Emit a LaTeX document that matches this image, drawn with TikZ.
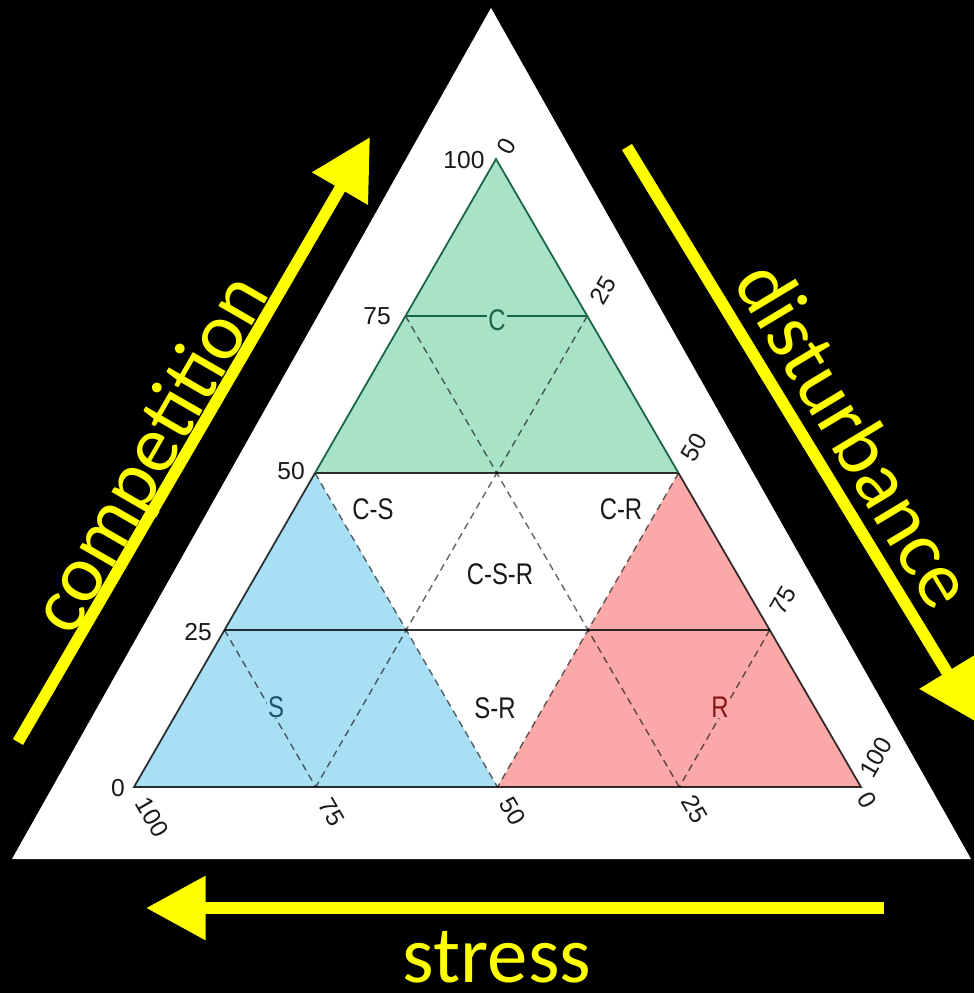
\documentclass[tikz,border=0pt]{standalone}
\usepackage{fontspec}
\newfontfamily\calfont{Carlito}
\newfontfamily\tickfont{Liberation Sans}
\newfontfamily\regfont[FakeStretch=0.8]{Liberation Sans}
\usetikzlibrary{arrows.meta,calc}
\definecolor{gfill}{RGB}{168,226,199}
\definecolor{bfill}{RGB}{168,223,245}
\definecolor{rfill}{RGB}{250,168,168}
\definecolor{gdark}{RGB}{25,100,70}
\definecolor{sdark}{RGB}{25,85,110}
\definecolor{rdark}{RGB}{130,20,25}
\definecolor{yel}{RGB}{255,255,0}
\definecolor{ink}{RGB}{25,25,25}
\tikzset{
  yarrow/.style={draw=yel, line width=6.6pt, -{Triangle[length=34pt,width=35pt]}},
  ytext/.style={text=yel, font=\calfont\fontsize{46}{50}\selectfont, inner sep=0pt},
  tick/.style={text=ink, font=\tickfont\fontsize{14}{16}\selectfont, inner sep=0pt},
  reg/.style={text=ink, font=\regfont\fontsize{17}{19}\selectfont, inner sep=1pt},
  grid/.style={draw=black, draw opacity=0.6, line width=0.8pt, dash pattern=on 4pt off 2.8pt},
  solid line/.style={draw=black, draw opacity=0.8, line width=1pt},
}
\begin{document}
\begin{tikzpicture}[x=0.02cm,y=-0.02cm]
\fill[black] (0,0) rectangle (974,993);
\useasboundingbox (0,0) rectangle (974,993);
% outer white triangle
\fill[white] (491,8) -- (12,859) -- (971,859) -- cycle;
% inner triangle
\coordinate (T) at (496,159);
\coordinate (L) at (134,787);
\coordinate (R) at (861,787);
\coordinate (l25) at ($(L)!0.25!(T)$);
\coordinate (l50) at ($(L)!0.5!(T)$);
\coordinate (l75) at ($(L)!0.75!(T)$);
\coordinate (r25) at ($(R)!0.25!(T)$);
\coordinate (r50) at ($(R)!0.5!(T)$);
\coordinate (r75) at ($(R)!0.75!(T)$);
\coordinate (b25) at ($(L)!0.25!(R)$);
\coordinate (b50) at ($(L)!0.5!(R)$);
\coordinate (b75) at ($(L)!0.75!(R)$);
% coloured regions
\fill[gfill] (T) -- (l50) -- (r50) -- cycle;
\fill[bfill] (L) -- (b50) -- (l50) -- cycle;
\fill[rfill] (b50) -- (R) -- (r50) -- cycle;
% dashed grid
\draw[grid] (l25) -- (b25);
\draw[grid] (l50) -- (b50);
\draw[grid] (l75) -- (b75);
\draw[grid] (r25) -- (b75);
\draw[grid] (r50) -- (b50);
\draw[grid] (r75) -- (b25);
% solid lines
\draw[solid line] (l25) -- (r25);
\draw[solid line] (l50) -- (r50);
\draw[solid line] (l50) -- (L) -- (R) -- (r50);
\draw[draw=gdark, line width=1pt] (l50) -- (T) -- (r50);
\draw[draw=gdark, line width=1pt] (l75) -- (r75);
% tick labels
\node[tick] (t100) at (464,160) {100};
\node[tick, rotate=60] (t0t) at (507,146) {0};
\node[tick] (tl75) at (377,316) {75};
\node[tick, rotate=60] (tr25) at (603,290) {25};
\node[tick] (tl50) at (291,471) {50};
\node[tick, rotate=60] (tr50) at (694,447) {50};
\node[tick] (tl25) at (198,632) {25};
\node[tick, rotate=60] (tr75) at (783,600) {75};
\node[tick] (tl0) at (118,788) {0};
\node[tick, rotate=60] (tr100) at (876,757) {100};
\node[tick, rotate=-60] (tb100) at (152,817) {100};
\node[tick, rotate=-60] (tb75) at (332,812) {75};
\node[tick, rotate=-60] (tb50) at (513,811) {50};
\node[tick, rotate=-60] (tb25) at (695,809) {25};
\node[tick, rotate=-60] (tb0) at (867,800) {0};
% region labels
\node[reg, text=gdark, fill=gfill] (lC) at (497,320) {C};
\node[reg] (lCS) at (373,509) {C-S};
\node[reg] (lCR) at (621,509) {C-R};
\node[reg] (lCSR) at (500,574) {C-S-R};
\node[reg, text=sdark, fill=bfill, inner sep=0.5pt] (lS) at (276,707) {S};
\node[reg] (lSR) at (495,708) {S-R};
\node[reg, text=rdark, fill=rfill, inner sep=0.5pt] (lR) at (720,707) {R};
% yellow arrows
\coordinate (cA) at (18,742);
\coordinate (cB) at (370,137);
\coordinate (dA) at (627,147);
\coordinate (dB) at (978,723);
\coordinate (sA) at (884,908);
\coordinate (sB) at (146,908);
\draw[yarrow] (cA) -- (cB);
\draw[yarrow] (dA) -- (dB);
\draw[yarrow] (sA) -- (sB);
% yellow texts
\node[ytext, rotate=60] (comp) at (153,455) {competition};
\node[ytext, rotate=-59] (dist) at (856,434) {disturbance};
\node[ytext, anchor=base] (stress) at (497,982) {stress};
\end{tikzpicture}
\end{document}
